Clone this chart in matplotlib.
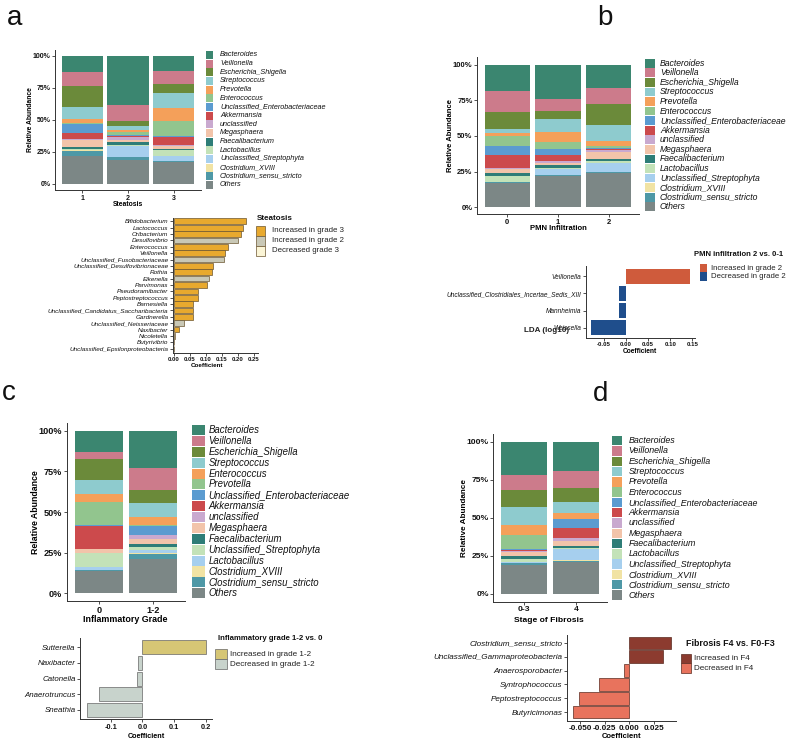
import matplotlib
matplotlib.use('Agg')
import matplotlib.pyplot as plt
from matplotlib.patches import Rectangle
import numpy as np

plt.rcParams['font.family'] = ['Liberation Sans', 'DejaVu Sans']

# ---------------- data ----------------
palette = ["#3b8670", "#cc7b8b", "#6b8a3a", "#8ecbce", "#f4a05a", "#92c58e",
           "#5b9bd0", "#cc4a4c", "#c9a9cf", "#f2c4aa", "#2e7d77", "#c3e2b8",
           "#a6cfee", "#f1e3a4", "#4e98a6", "#7c8786"]

taxa_std = ["Bacteroides", "Veillonella", "Escherichia_Shigella", "Streptococcus",
            "Prevotella", "Enterococcus", "Unclassified_Enterobacteriaceae",
            "Akkermansia", "unclassified", "Megasphaera", "Faecalibacterium",
            "Lactobacillus", "Unclassified_Streptophyta", "Clostridium_XVIII",
            "Clostridium_sensu_stricto", "Others"]
taxa_c = ["Bacteroides", "Veillonella", "Escherichia_Shigella", "Streptococcus",
          "Enterococcus", "Prevotella", "Unclassified_Enterobacteriaceae",
          "Akkermansia", "unclassified", "Megasphaera", "Faecalibacterium",
          "Unclassified_Streptophyta", "Lactobacillus", "Clostridium_XVIII",
          "Clostridium_sensu_stricto", "Others"]

# panel a: Steatosis (%, legend order top -> bottom)
steatosis_groups = ["1", "2", "3"]
steatosis_1 = [12.2, 11.2, 16.9, 9.1, 3.1, 0.5, 7.3, 4.7, 1.0, 5.5, 1.3, 1.0, 0.3, 0.3, 4.2, 21.9]
steatosis_2 = [38.8, 12.5, 3.9, 3.1, 1.3, 2.6, 1.0, 0.5, 2.1, 2.1, 2.3, 0.8, 8.3, 0.3, 2.1, 18.8]
steatosis_3 = [12.2, 9.6, 7.3, 12.2, 9.9, 12.2, 0.5, 6.5, 1.0, 2.3, 0.5, 4.7, 3.9, 0.3, 0.5, 17.4]

# panel b: PMN infiltration
pmn_groups = ["0", "1", "2"]
pmn_0 = [18.9, 14.5, 12.4, 2.3, 2.3, 7.0, 6.3, 9.6, 0.5, 2.8, 1.9, 4.2, 0.3, 0.3, 0.3, 17.3]
pmn_1 = [24.1, 8.9, 5.4, 9.3, 7.0, 4.7, 4.7, 4.2, 1.4, 1.4, 1.6, 0.7, 4.4, 0.3, 0.3, 22.2]
pmn_2 = [16.6, 11.7, 14.5, 11.7, 3.5, 1.4, 0.5, 0.7, 1.6, 5.1, 0.9, 1.6, 6.3, 0.3, 1.0, 24.0]

# panel c: Inflammatory grade (taxa_c order)
infl_groups = ["0", "1-2"]
infl_0 = [13.3, 4.1, 13.3, 8.8, 5.1, 14.3, 0.3, 14.3, 0.5, 2.0, 0.5, 8.2, 2.0, 0.3, 0.5, 13.9]
infl_12 = [23.2, 13.7, 8.2, 8.8, 4.7, 0.5, 5.5, 0.5, 2.0, 3.1, 2.0, 2.0, 2.0, 0.3, 3.1, 21.5]

# panel d: Stage of fibrosis
fib_groups = ["0-3", "4"]
fib_03 = [21.9, 10.1, 11.8, 11.6, 6.6, 9.8, 0.3, 0.5, 1.1, 2.6, 1.8, 2.2, 0.3, 0.3, 1.1, 19.5]
fib_4 = [19.3, 11.6, 9.2, 7.2, 3.7, 0.5, 5.9, 6.6, 1.8, 3.3, 1.5, 0.7, 7.2, 0.3, 1.1, 21.0]

# coefficient plots
ste_taxa = ["Bifidobacterium", "Lactococcus", "Oribacterium", "Desulfovibrio", "Enterococcus",
            "Veillonella", "Unclassified_Fusobacteriaceae", "Unclassified_Desulfovibrionaceae",
            "Rothia", "Eikenella", "Parvimonas", "Pseudoramibacter", "Peptostreptococcus",
            "Barnesiella", "Unclassified_Candidatus_Saccharibacteria", "Gardnerella",
            "Unclassified_Neisseriaceae", "Naxibacter", "Nicoletella", "Butyrivibrio",
            "Unclassified_Epsilonproteobacteria"]
ste_coef = [0.225, 0.215, 0.208, 0.200, 0.168, 0.158, 0.156, 0.123, 0.120, 0.108, 0.104,
            0.074, 0.075, 0.060, 0.058, 0.058, 0.032, 0.017, 0.002, 0.0015, 0.001]
ste_class = ["Increased in grade 3"] * 3 + ["Increased in grade 2"] + ["Increased in grade 3"] * 2 + \
            ["Increased in grade 2"] + ["Increased in grade 3"] * 2 + ["Increased in grade 2"] + \
            ["Increased in grade 3"] * 6 + ["Increased in grade 2"] + ["Increased in grade 3"] + \
            ["Decreased grade 3"] * 3
ste_levels = ["Increased in grade 3", "Increased in grade 2", "Decreased grade 3"]
ste_colors = ["#e8a92e", "#c9c8b6", "#fbf5d6"]

pmn_taxa = ["Veillonella", "Unclassified_Clostridiales_Incertae_Sedis_XIII", "Mannheimia", "Weissella"]
pmn_coef = [0.145, -0.015, -0.017, -0.080]
pmn_levels = ["Increased in grade 2", "Decreased in grade 2"]
pmn_colors = ["#cf5b3c", "#1f4e8c"]

inf_taxa = ["Sutterella", "Naxibacter", "Catonella", "Anaerotruncus", "Sneathia"]
inf_coef = [0.200, -0.014, -0.018, -0.136, -0.174]
inf_levels = ["Increased in grade 1-2", "Decreased in grade 1-2"]
inf_colors = ["#d6c675", "#c8d3cc"]

fibc_taxa = ["Clostridium_sensu_stricto", "Unclassified_Gammaproteobacteria", "Anaerosporobacter",
             "Syntrophococcus", "Peptostreptococcus", "Butyricimonas"]
fibc_coef = [0.0426, 0.0348, -0.005, -0.031, -0.052, -0.058]
fibc_levels = ["Increased in F4", "Decreased in F4"]
fibc_colors = ["#8c3b2f", "#e8735d"]

# ---------------- figure ----------------
W, H = 800, 745
fig = plt.figure(figsize=(8, 7.45), dpi=100)
ov = fig.add_axes([0, 0, 1, 1], zorder=10)
ov.set_xlim(0, W); ov.set_ylim(H, 0); ov.axis('off'); ov.patch.set_alpha(0)


def add_ax(l, t, r, b):
    return fig.add_axes([l / W, 1 - b / H, (r - l) / W, (b - t) / H])


def style(ax, fs_x, fs_y, xbold=True, ybold=True, yitalic=False):
    for s in ['top', 'right']:
        ax.spines[s].set_visible(False)
    for s in ['left', 'bottom']:
        ax.spines[s].set_linewidth(0.7)
        ax.spines[s].set_color('#333333')
    ax.tick_params(length=2, width=0.6, pad=1.2, colors='#333333')
    for lab in ax.get_xticklabels():
        lab.set_fontsize(fs_x); lab.set_color('#111111')
        if xbold: lab.set_fontweight('bold')
    for lab in ax.get_yticklabels():
        lab.set_fontsize(fs_y); lab.set_color('#111111')
        if ybold: lab.set_fontweight('bold')
        if yitalic: lab.set_fontstyle('italic')
    ax.patch.set_alpha(0)


def stacked(box, groups, series, fs):
    ax = add_ax(*box)
    x = np.arange(len(groups))
    mat = np.array(series, float).T  # taxa x groups
    frac = mat / mat.sum(axis=0)
    bottom = np.zeros(len(groups))
    for k in range(frac.shape[0] - 1, -1, -1):
        ax.bar(x, frac[k], bottom=bottom, width=0.9, color=palette[k], linewidth=0)
        bottom += frac[k]
    ax.set_xlim(-0.6, len(groups) - 0.4)
    ax.set_ylim(-0.05, 1.05)
    ax.set_yticks([0, 0.25, 0.5, 0.75, 1.0])
    ax.set_yticklabels(['0%', '25%', '50%', '75%', '100%'])
    ax.set_xticks(x)
    ax.set_xticklabels(groups)
    style(ax, fs, fs)
    return ax


def stack_legend(x_sw, w_sw, y0, y1, x_txt, names, fs):
    n = len(names)
    dy = (y1 - y0) / (n - 1)
    for i, name in enumerate(names):
        yc = y0 + i * dy
        ov.add_patch(Rectangle((x_sw, yc - dy / 2 + 0.4), w_sw, dy - 0.8,
                               facecolor=palette[i], edgecolor='none'))
        ov.text(x_txt, yc, name, fontsize=fs, style='italic', va='center', ha='left',
                color='#111111')


def coef_plot(box, xlim, taxa, coef, cols, edge, fs_x, fs_y, xticks, xticklabels):
    ax = add_ax(*box)
    y = np.arange(len(taxa))
    ax.barh(y, coef, height=0.9, color=cols, edgecolor=edge, linewidth=0.5 if edge != 'none' else 0)
    ax.set_ylim(len(taxa) - 0.4, -0.6)
    ax.set_xlim(*xlim)
    ax.set_yticks(y)
    ax.set_yticklabels(taxa)
    ax.set_xticks(xticks)
    ax.set_xticklabels(xticklabels)
    style(ax, fs_x, fs_y, xbold=True, ybold=False, yitalic=True)
    return ax


def coef_legend(title, x_title, y_title, x_sw, w_sw, centers, h_sw, x_txt, levels, colors,
                edge, fs_title, fs):
    ov.text(x_title, y_title, title, fontsize=fs_title, fontweight='bold', va='center',
            ha='left', color='#111111')
    for yc, lev, col in zip(centers, levels, colors):
        ov.add_patch(Rectangle((x_sw, yc - h_sw / 2), w_sw, h_sw, facecolor=col,
                               edgecolor=edge, linewidth=0.5 if edge != 'none' else 0))
        ov.text(x_txt, yc, lev, fontsize=fs, va='center', ha='left', color='#222222')


# ---- panel a ----
stacked((55, 49.6, 201, 190.4), steatosis_groups, [steatosis_1, steatosis_2, steatosis_3], 5.0)
stack_legend(206, 7.3, 55, 185, 220, taxa_std, 5.2)
ov.text(31, 120, "Relative Abundance", rotation=90, fontsize=4.9, fontweight='bold',
        ha='center', va='center')
ov.text(128, 205, "Steatosis", fontsize=4.9, fontweight='bold', ha='center', va='center')

cols = [ste_colors[ste_levels.index(c)] for c in ste_class]
coef_plot((172.7, 217.5, 258, 352.5), (-0.004, 0.2625), ste_taxa, ste_coef, cols, '#6b5530',
          4.3, 4.6, [0, 0.05, 0.10, 0.15, 0.20, 0.25],
          ["0.00", "0.05", "0.10", "0.15", "0.20", "0.25"])
ov.text(206.7, 365.7, "Coefficient", fontsize=4.5, fontweight='bold', ha='center', va='center')
coef_legend("Steatosis", 257, 219, 256, 9, [231, 241, 251], 9.6, 271.5, ste_levels, ste_colors,
            '#6b5530', 5.8, 5.7)

# ---- panel b ----
stacked((477, 57.4, 639, 214.4), pmn_groups, [pmn_0, pmn_1, pmn_2], 5.5)
stack_legend(645, 10, 63.3, 206.7, 660, taxa_std, 6.2)
ov.text(450, 136, "Relative Abundance", rotation=90, fontsize=5.5, fontweight='bold',
        ha='center', va='center')
ov.text(558, 228, "PMN Infiltration", fontsize=5.5, fontweight='bold', ha='center', va='center')

cols = [pmn_colors[0] if c > 0 else pmn_colors[1] for c in pmn_coef]
coef_plot((586, 266, 695, 338), (-0.0905, 0.156), pmn_taxa, pmn_coef, cols, 'none',
          4.4, 4.7, [-0.05, 0, 0.05, 0.10, 0.15], ["-0.05", "0.00", "0.05", "0.10", "0.15"])
ov.text(640, 351.7, "Coefficient", fontsize=4.8, fontweight='bold', ha='center', va='center')
coef_legend("PMN infiltration 2 vs. 0-1", 694, 255, 700, 7.3, [268, 276.5], 8.4, 710.7,
            pmn_levels, pmn_colors, 'none', 5.5, 5.6)
ov.text(546, 331, "LDA (log10)", fontsize=5.8, fontweight='bold', ha='center', va='center',
        color='#222222')

# ---- panel c ----
stacked((66.7, 422.6, 185, 601.4), infl_groups, [infl_0, infl_12], 6.6)
stack_legend(192, 13, 430, 593.3, 208.3, taxa_c, 6.9)
ov.text(35, 512, "Relative Abundance", rotation=90, fontsize=6.3, fontweight='bold',
        ha='center', va='center')
ov.text(125, 620, "Inflammatory Grade", fontsize=6.4, fontweight='bold', ha='center', va='center')

cols = [inf_colors[0] if c > 0 else inf_colors[1] for c in inf_coef]
coef_plot((80, 637.9, 211.7, 719.4), (-0.197, 0.219), inf_taxa, inf_coef, cols, '#666666',
          5.3, 5.7, [-0.1, 0, 0.1, 0.2], ["-0.1", "0.0", "0.1", "0.2"])
ov.text(146, 736, "Coefficient", fontsize=5.2, fontweight='bold', ha='center', va='center')
coef_legend("Inflammatory grade 1-2 vs. 0", 218, 638.7, 215, 11.7, [654.3, 664.2], 9.9, 230,
            inf_levels, inf_colors, '#666666', 5.6, 5.9)

# ---- panel d ----
stacked((493.3, 434.1, 606.7, 601.6), fib_groups, [fib_03, fib_4], 6.1)
stack_legend(611.7, 10, 440.7, 595, 628.3, taxa_std, 6.4)
ov.text(464, 518, "Relative Abundance", rotation=90, fontsize=5.9, fontweight='bold',
        ha='center', va='center')
ov.text(549, 620.7, "Stage of Fibrosis", fontsize=6.1, fontweight='bold', ha='center', va='center')

cols = [fibc_colors[0] if c > 0 else fibc_colors[1] for c in fibc_coef]
coef_plot((566.7, 634.5, 676, 720.5), (-0.0641, 0.0479), fibc_taxa, fibc_coef, cols, '#5a2a20',
          5.9, 5.9, [-0.05, -0.025, 0, 0.025], ["-0.050", "-0.025", "0.000", "0.025"])
ov.text(621.7, 736.7, "Coefficient", fontsize=5.5, fontweight='bold', ha='center', va='center')
coef_legend("Fibrosis F4 vs. F0-F3", 686, 643, 680.7, 10, [658.3, 668], 9.6, 694.3,
            fibc_levels, fibc_colors, '#5a2a20', 6.4, 5.9)

# panel letters
for s, x, y in [("a", 7, 25), ("b", 597, 25), ("c", 2, 400), ("d", 593, 401)]:
    ov.text(x, y, s, fontsize=20, ha='left', va='baseline', color='#111111')

fig.savefig("out.png", dpi=100)
